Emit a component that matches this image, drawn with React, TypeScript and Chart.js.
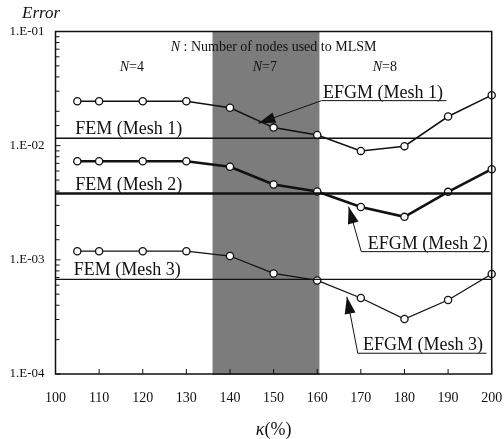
import { useEffect, useRef } from "react";
import { Chart, registerables } from "chart.js";
Chart.register(...registerables);

// ---- data ----
const kappa = [105, 110, 120, 130, 140, 150, 160, 170, 180, 190, 200];
const efgmMesh1 = [0.0245, 0.0245, 0.0245, 0.0245, 0.0215, 0.0144, 0.0124, 0.009, 0.0099, 0.018, 0.0277];
const efgmMesh2 = [0.00731, 0.00731, 0.00731, 0.00731, 0.00653, 0.00457, 0.00397, 0.0029, 0.00238, 0.00394, 0.00622];
const efgmMesh3 = [0.00119, 0.00119, 0.00119, 0.00119, 0.00108, 0.00076, 0.00066, 0.000463, 0.000303, 0.000445, 0.000752];
const femMesh1 = 0.01163;
const femMesh2 = 0.00381;
const femMesh3 = 0.000673;
const xRange = [100, 200];
const xTickStep = 10;
const yRange = [1e-4, 1e-1];
const yTickLabels = ["1.E-04", "1.E-03", "1.E-02", "1.E-01"];
const shadeRange = [136, 160.5];
const regionLabels = [
  { n: "4", x: 117.5 },
  { n: "7", x: 148 },
  { n: "8", x: 175.5 },
];

const FONT = "'Liberation Serif', 'DejaVu Serif', serif";

export default function App() {
  const ref = useRef<HTMLCanvasElement | null>(null);

  useEffect(() => {
    const canvas = ref.current;
    if (!canvas) return;

    const toPts = (ys: number[]) => kappa.map((x, i) => ({ x, y: ys[i] }));
    const flat = (v: number) => [
      { x: xRange[0], y: v },
      { x: xRange[1], y: v },
    ];

    const lineDs = (data: any[], w: number, points: boolean) => ({
      data,
      borderColor: "#111",
      borderWidth: w,
      pointRadius: points ? 3.6 : 0,
      pointBackgroundColor: "#fff",
      pointBorderColor: "#111",
      pointBorderWidth: 1.3,
      tension: 0,
      clip: false as any,
    });

    const overlay = {
      id: "overlay",
      beforeDatasetsDraw(chart: any) {
        const { ctx, chartArea, scales } = chart;
        const x0 = scales.x.getPixelForValue(shadeRange[0]);
        const x1 = scales.x.getPixelForValue(shadeRange[1]);
        ctx.save();
        ctx.fillStyle = "#7c7c7c";
        ctx.fillRect(x0, chartArea.top, x1 - x0, chartArea.bottom - chartArea.top + 1);
        ctx.restore();
      },
      afterDraw(chart: any) {
        const { ctx, chartArea, scales } = chart;
        const xs = scales.x;
        const ys = scales.y;
        const px = (v: number) => xs.getPixelForValue(v);
        const py = (v: number) => ys.getPixelForValue(v);
        ctx.save();
        // border
        ctx.strokeStyle = "#111";
        ctx.lineWidth = 1.5;
        ctx.strokeRect(chartArea.left, chartArea.top, chartArea.right - chartArea.left, chartArea.bottom - chartArea.top);
        // inner ticks
        ctx.lineWidth = 1;
        ctx.beginPath();
        ys.ticks.forEach((t: any) => {
          const y = py(t.value);
          const e = Math.log10(t.value);
          const major = Math.abs(e - Math.round(e)) < 1e-6;
          ctx.moveTo(chartArea.left, y);
          ctx.lineTo(chartArea.left + (major ? 5 : 4), y);
        });
        xs.ticks.forEach((t: any) => {
          const x = px(t.value);
          ctx.moveTo(x, chartArea.bottom);
          ctx.lineTo(x, chartArea.bottom - 5);
        });
        ctx.stroke();

        const rich = (parts: { t: string; it?: boolean }[], cx: number, cy: number, size: number) => {
          let total = 0;
          const widths = parts.map((p) => {
            ctx.font = `${p.it ? "italic " : ""}${size}px ${FONT}`;
            const w = ctx.measureText(p.t).width;
            total += w;
            return w;
          });
          let x = cx - total / 2;
          ctx.textBaseline = "middle";
          ctx.textAlign = "left";
          parts.forEach((p, i) => {
            ctx.font = `${p.it ? "italic " : ""}${size}px ${FONT}`;
            ctx.fillText(p.t, x, cy);
            x += widths[i];
          });
        };
        ctx.fillStyle = "#111";
        // axis titles
        ctx.font = `italic 17px ${FONT}`;
        ctx.textAlign = "left";
        ctx.textBaseline = "alphabetic";
        ctx.fillText("Error", 22, 18);
        rich([{ t: "κ", it: true }, { t: "(%)" }], (chartArea.left + chartArea.right) / 2, 430, 18);

        // region annotations
        rich([{ t: "N", it: true }, { t: " : Number of nodes used to MLSM" }], px(150), py(0.0732), 14);
        regionLabels.forEach((r) => rich([{ t: "N", it: true }, { t: "=" + r.n }], px(r.x), py(0.0489), 14));

        // FEM labels
        ctx.font = `18px ${FONT}`;
        ctx.textAlign = "left";
        ctx.textBaseline = "alphabetic";
        ctx.fillText("FEM (Mesh 1)", px(104.5), py(femMesh1) - 4);
        ctx.fillText("FEM (Mesh 2)", px(104.5), py(femMesh2) - 4);
        ctx.fillText("FEM (Mesh 3)", px(104.2), py(femMesh3) - 4);

        // EFGM labels with arrows
        const efgm = [
          { t: "EFGM (Mesh 1)", ux0: 161.0, ux1: 189.6, uy: 0.0248, tx: 161.3, tipX: 146.5, tipY: 0.0157 },
          { t: "EFGM (Mesh 2)", ux0: 170.1, ux1: 199.5, uy: 0.00118, tx: 171.6, tipX: 167.2, tipY: 0.00292 },
          { t: "EFGM (Mesh 3)", ux0: 169.3, ux1: 198.8, uy: 0.000152, tx: 170.5, tipX: 166.8, tipY: 0.000475 },
        ];
        efgm.forEach((a) => {
          const ux0 = px(a.ux0);
          const ux1 = px(a.ux1);
          const uy = py(a.uy);
          const tx = px(a.tipX);
          const ty = py(a.tipY);
          ctx.font = `18px ${FONT}`;
          ctx.textBaseline = "alphabetic";
          ctx.fillText(a.t, px(a.tx), uy - 3);
          ctx.lineWidth = 1;
          ctx.beginPath();
          ctx.moveTo(ux1, uy);
          ctx.lineTo(ux0, uy);
          ctx.lineTo(tx, ty);
          ctx.stroke();
          // arrow head
          const dx = tx - ux0;
          const dy = ty - uy;
          const len = Math.hypot(dx, dy);
          const ux = dx / len;
          const uyv = dy / len;
          const L = 17;
          const W = 5.5;
          const bx = tx - ux * L;
          const by = ty - uyv * L;
          ctx.beginPath();
          ctx.moveTo(tx, ty);
          ctx.lineTo(bx - uyv * W, by + ux * W);
          ctx.lineTo(bx + uyv * W, by - ux * W);
          ctx.closePath();
          ctx.fill();
        });
        ctx.restore();
      },
    };

    const chart = new Chart(canvas, {
      type: "line",
      data: {
        datasets: [
          lineDs(flat(femMesh1), 1.5, false),
          lineDs(flat(femMesh2), 2.5, false),
          lineDs(flat(femMesh3), 1.3, false),
          lineDs(toPts(efgmMesh1), 1.5, true),
          lineDs(toPts(efgmMesh2), 2.6, true),
          lineDs(toPts(efgmMesh3), 1.3, true),
        ] as any,
      },
      options: {
        animation: false,
        responsive: false,
        events: [],
        layout: { padding: { left: 0, right: 12.3, top: 31.5, bottom: 0 } },
        plugins: { legend: { display: false }, tooltip: { enabled: false } },
        scales: {
          x: {
            type: "linear",
            min: xRange[0],
            max: xRange[1],
            grid: {
              display: true,
              drawOnChartArea: false,
              drawTicks: true,
              tickLength: 16,
              color: "rgba(0,0,0,0)",
            },
            border: { display: false },
            ticks: {
              stepSize: xTickStep,
              padding: 0,
              color: "#111",
              font: { family: FONT, size: 14 },
              maxRotation: 0,
            },
            afterFit: (s: any) => {
              s.height = 65;
            },
          },
          y: {
            type: "logarithmic",
            min: yRange[0],
            max: yRange[1],
            grid: { display: false, drawTicks: false },
            border: { display: false },
            ticks: {
              autoSkip: false,
              padding: 11,
              color: "#111",
              font: { family: FONT, size: 13 },
              callback: (v: any) => {
                const e = Math.log10(Number(v));
                const r = Math.round(e);
                if (Math.abs(e - r) < 1e-6) return yTickLabels[r + 4] ?? "";
                return "";
              },
            },
            afterFit: (s: any) => {
              s.width = 55.5;
            },
          },
        },
      },
      plugins: [overlay],
    } as any);

    return () => chart.destroy();
  }, []);

  return (
    <div style={{ position: "fixed", left: 0, top: 0, width: 504, height: 439, background: "#fff" }}>
      <canvas ref={ref} width={504} height={439} style={{ display: "block" }} />
    </div>
  );
}
